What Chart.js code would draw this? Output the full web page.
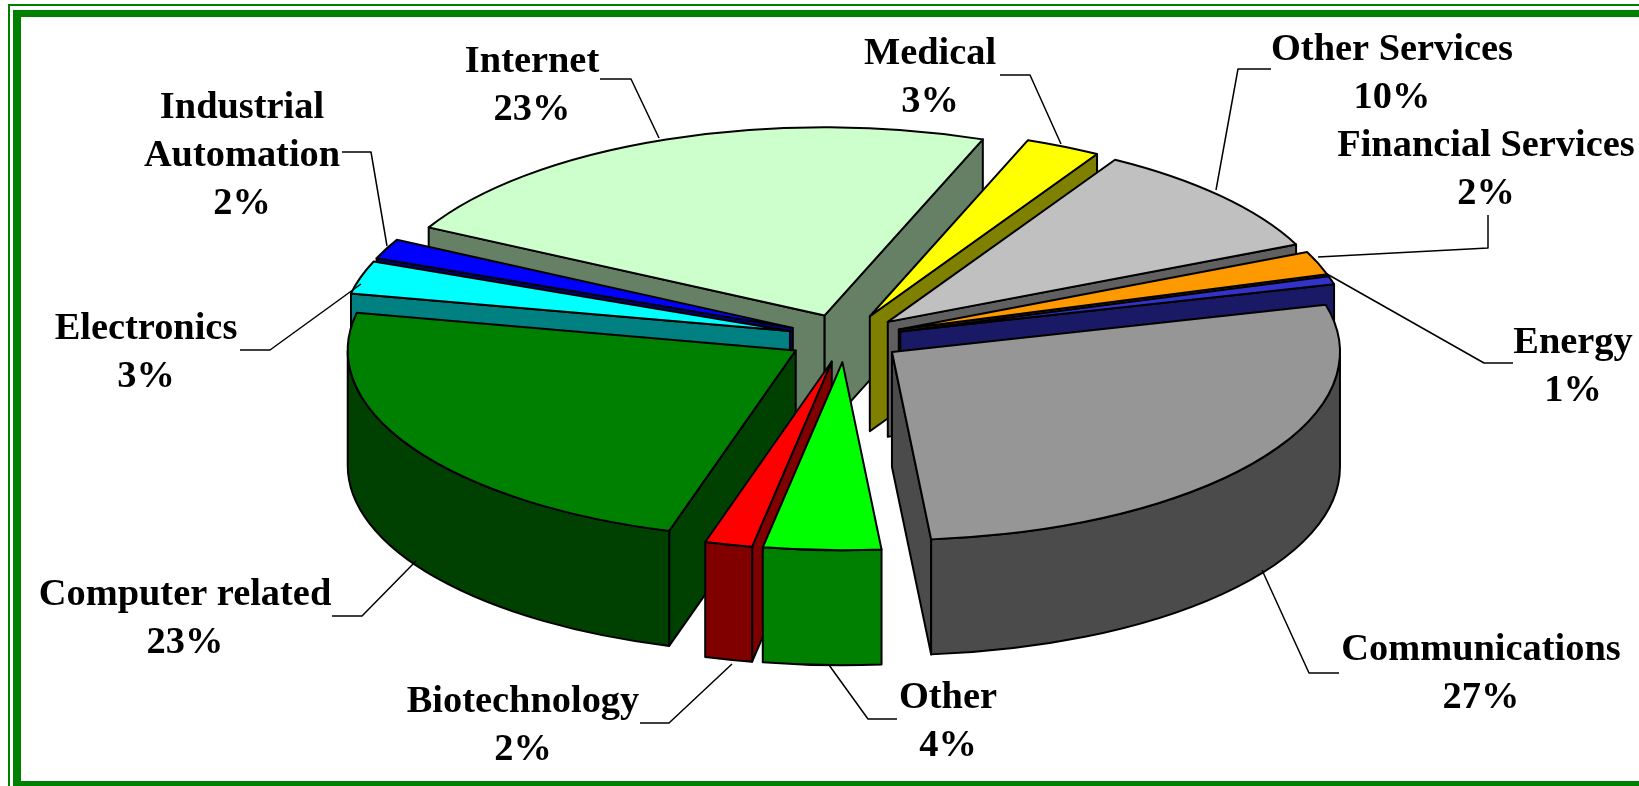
<!DOCTYPE html>
<html><head><meta charset="utf-8">
<style>html,body{margin:0;padding:0;background:#fff;overflow:hidden}canvas{display:block}</style>
<script src="https://cdn.jsdelivr.net/npm/chart.js@4"></script>
</head><body>
<canvas id="c" width="1639" height="786"></canvas>
<script>
const categories = ['Communications','Other','Biotechnology','Computer related','Electronics','Industrial Automation','Internet','Medical','Other Services','Financial Services','Energy'];
const shares = [27.4,4.2,1.7,23.45,2.8,1.7,22.8,2.7,9.7,2.0,0.7];
const topColors = ['#969696','#00FF00','#FF0000','#008000','#00FFFF','#0000FF','#CCFFCC','#FFFF00','#C0C0C0','#FF9900','#3333CC'];
const wallColors = ['#4B4B4B','#008000','#800000','#004000','#008080','#000080','#668066','#808000','#606060','#804D00','#191966'];

// Callout text: lines, centre x, first baseline
const calloutText = [
  [['Internet','23%'],532,72],
  [['Medical','3%'],930,64],
  [['Other Services','10%'],1392,60],
  [['Financial Services','2%'],1486,156],
  [['Energy','1%'],1573,353],
  [['Communications','27%'],1481,660],
  [['Other','4%'],948,708],
  [['Biotechnology','2%'],523,712],
  [['Computer related','23%'],185,605],
  [['Electronics','3%'],146,339],
  [['Industrial','Automation','2%'],242,118]
];
const leaderLines = [
  [[600,79],[631,79],[659,138]],
  [[1000,75],[1030,75],[1061,144]],
  [[1271,69],[1238,69],[1216,190]],
  [[1318,257],[1488,248],[1488,215]],
  [[1327,274],[1484,363],[1513,363]],
  [[1262,570],[1309,673],[1339,673]],
  [[829,665],[868,719],[897,719]],
  [[732,664],[669,723],[640,723]],
  [[416,561],[362,616],[332,616]],
  [[361,284],[270,350],[240,350]],
  [[342,152],[371,152],[387,246]]
];

const pieView = {cx:845, cy:338, radius:448, squash:0.42, explode:57.5, depth:115, edge:2};

function frame(ctx){
  ctx.save();
  ctx.fillStyle='#fff';ctx.fillRect(0,0,1639,786);
  ctx.fillStyle='#008000';
  ctx.fillRect(8,4,1631,2);
  ctx.fillRect(8,4,2,782);
  ctx.fillRect(13,10,1626,7);
  ctx.fillRect(13,10,8,776);
  ctx.fillRect(13,781,1626,5);
  ctx.restore();
}

const pie3d = {
  id:'pie3d',
  beforeDraw(chart){frame(chart.ctx);},
  beforeDatasetDraw(){return false;},
  afterDatasetsDraw(chart){
    const ctx=chart.ctx, meta=chart.getDatasetMeta(0), v=pieView;
    const mid=a=>(a.startAngle+a.endAngle)/2;
    const arcs=meta.data.slice().sort((p,q)=>Math.sin(mid(p))-Math.sin(mid(q)));
    ctx.lineJoin='round';
    arcs.forEach(arc=>{
      const i=meta.data.indexOf(arc), a0=arc.startAngle, a1=arc.endAngle, m=mid(arc);
      const x=v.cx+Math.cos(m)*v.explode, y=v.cy+Math.sin(m)*v.explode*v.squash;
      const R=v.radius, rY=R*v.squash, h=v.depth;
      const rim=t=>[x+R*Math.cos(t), y+rY*Math.sin(t)];
      ctx.strokeStyle='#000';ctx.lineWidth=v.edge;ctx.fillStyle=wallColors[i];
      const quad=t=>{const p=rim(t);ctx.beginPath();ctx.moveTo(x,y);ctx.lineTo(p[0],p[1]);ctx.lineTo(p[0],p[1]+h);ctx.lineTo(x,y+h);ctx.closePath();ctx.fill();ctx.stroke();};
      // radial walls, only where they face the viewer
      if(Math.cos(a0)<0) quad(a0);
      if(Math.cos(a1)>0) quad(a1);
      // curved wall: front half of the rim
      let s=a0%(2*Math.PI); if(s<0) s+=2*Math.PI;
      const e=s+(a1-a0);
      [[0,Math.PI],[2*Math.PI,3*Math.PI]].forEach(([lo,hi])=>{
        const b0=Math.max(s,lo), b1=Math.min(e,hi);
        if(b1>b0){
          ctx.beginPath();
          ctx.ellipse(x,y,R,rY,0,b0,b1);
          ctx.ellipse(x,y+h,R,rY,0,b1,b0,true);
          ctx.closePath();ctx.fill();ctx.stroke();
        }
      });
      // top face: the library's arc element, mapped onto the tilted plane
      const k=R/arc.outerRadius;
      ctx.save();
      ctx.translate(x,y);ctx.scale(k,k*v.squash);ctx.translate(-arc.x,-arc.y);
      arc.draw(ctx);
      ctx.restore();
      // uniform-width outline of the top face
      ctx.strokeStyle='#000';ctx.lineWidth=v.edge;
      ctx.beginPath();ctx.moveTo(x,y);ctx.ellipse(x,y,R,rY,0,a0,a1);ctx.closePath();ctx.stroke();
    });
    // callouts
    ctx.strokeStyle='#000';ctx.lineWidth=1.5;
    leaderLines.forEach(l=>{ctx.beginPath();l.forEach((p,n)=>n?ctx.lineTo(p[0],p[1]):ctx.moveTo(p[0],p[1]));ctx.stroke();});
    ctx.fillStyle='#000';ctx.font='bold 38.4px "Liberation Serif"';ctx.textAlign='center';ctx.textBaseline='alphabetic';
    calloutText.forEach(([lines,cx,y0])=>lines.forEach((t,n)=>ctx.fillText(t,cx,y0+n*48)));
  }
};

new Chart(document.getElementById('c'),{
  type:'pie',
  data:{labels:categories,datasets:[{data:shares,backgroundColor:topColors,borderWidth:0}]},
  options:{
    responsive:false,animation:false,rotation:75.5,
    plugins:{legend:{display:false},tooltip:{enabled:false}},
    events:[]
  },
  plugins:[pie3d]
});
</script>
</body></html>
